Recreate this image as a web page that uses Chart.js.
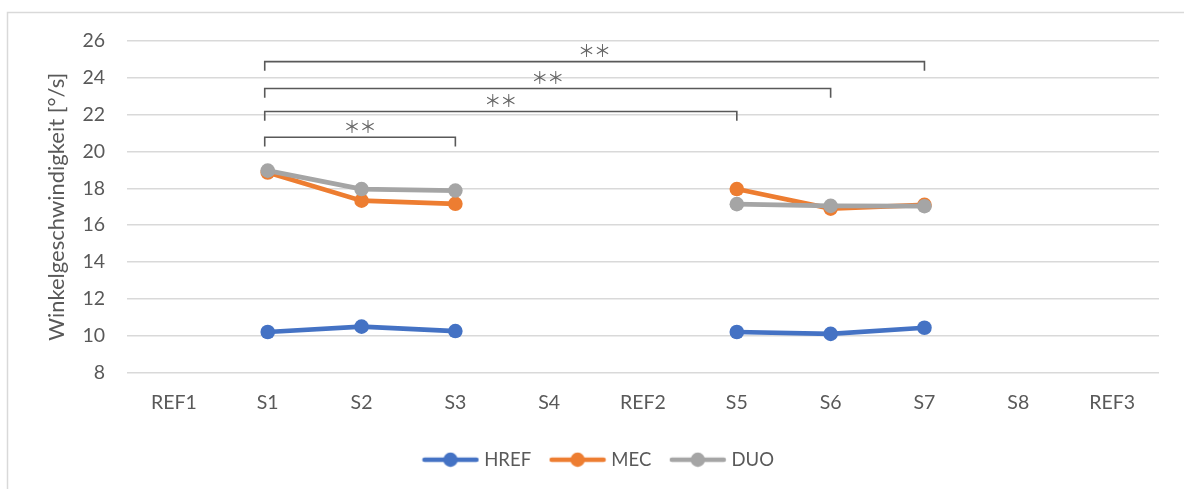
<!DOCTYPE html>
<html>
<head>
<meta charset="utf-8">
<script src="https://cdn.jsdelivr.net/npm/chart.js@4/dist/chart.umd.min.js"></script>
<style>
  html, body { margin: 0; padding: 0; background: #ffffff; }
  #wrap { position: relative; width: 1184px; height: 489px; }
  canvas { display: block; }
</style>
</head>
<body>
<div id="wrap"><canvas id="c" width="1184" height="489"></canvas></div>
<script>
// ---- data ----
const categories = ['REF1', 'S1', 'S2', 'S3', 'S4', 'REF2', 'S5', 'S6', 'S7', 'S8', 'REF3'];
const hrefValues = [null, 10.2, 10.49, 10.25, null, null, 10.2, 10.1, 10.43, null, null];
const mecValues  = [null, 18.86, 17.33, 17.16, null, null, 17.96, 16.9, 17.1, null, null];
const duoValues  = [null, 18.96, 17.96, 17.88, null, null, 17.14, 17.05, 17.03, null, null];
const seriesNames = ['HREF', 'MEC', 'DUO'];
const yMin = 8, yMax = 26, yStep = 2;
const yTitle = 'Winkelgeschwindigkeit [°/s]';
// significance brackets
const bracketFrom  = ['S1', 'S1', 'S1', 'S1'];
const bracketTo    = ['S7', 'S6', 'S5', 'S3'];
const bracketLevel = [24.88, 23.42, 22.17, 20.77];
const bracketLabel = ['＊', '＊', '＊', '＊']; // drawn twice -> "**"

// ---- styles ----
const colors = ['#4472C4', '#ED7D31', '#A5A5A5'];
const textColor = '#595959';
const gridColor = '#D9D9D9';
const fontFamily = 'Lato, "Open Sans", sans-serif';

function legendImage(color) {
  const cv = document.createElement('canvas');
  cv.width = 58; cv.height = 16;
  const g = cv.getContext('2d');
  g.strokeStyle = color; g.lineWidth = 4.5; g.lineCap = 'round';
  g.beginPath(); g.moveTo(3, 8); g.lineTo(55, 8); g.stroke();
  g.fillStyle = color;
  g.beginPath(); g.arc(29, 8, 7.2, 0, Math.PI * 2); g.fill();
  return cv;
}
const legendImgs = colors.map(legendImage);

const framePlugin = {
  id: 'frame',
  beforeDraw(chart) {
    const ctx = chart.ctx;
    ctx.save();
    ctx.fillStyle = '#ffffff';
    ctx.fillRect(0, 0, chart.width, chart.height);
    ctx.strokeStyle = gridColor;
    ctx.lineWidth = 1.5;
    ctx.strokeRect(7.5, 12.5, 1200, 500);
    ctx.restore();
  }
};

const bracketPlugin = {
  id: 'brackets',
  afterDatasetsDraw(chart) {
    const ctx = chart.ctx;
    const xs = chart.scales.x, ys = chart.scales.y;
    ctx.save();
    ctx.strokeStyle = textColor;
    ctx.lineWidth = 1.6;
    ctx.fillStyle = '#666666';
    ctx.font = '17px "Noto Sans CJK JP"';
    ctx.textAlign = 'center';
    ctx.textBaseline = 'middle';
    for (let i = 0; i < bracketLevel.length; i++) {
      const x1 = xs.getPixelForValue(categories.indexOf(bracketFrom[i])) - 3;
      const x2 = xs.getPixelForValue(categories.indexOf(bracketTo[i]));
      const y = ys.getPixelForValue(bracketLevel[i]);
      const drop = ys.getPixelForValue(bracketLevel[i] - 0.5) - y;
      ctx.beginPath();
      ctx.moveTo(x1, y + drop);
      ctx.lineTo(x1, y);
      ctx.lineTo(x2, y);
      ctx.lineTo(x2, y + drop);
      ctx.stroke();
      const cx = (x1 + x2) / 2;
      ctx.fillText(bracketLabel[i], cx - 8, y - 11);
      ctx.fillText(bracketLabel[i], cx + 8, y - 11);
    }
    ctx.restore();
  }
};

const values = [hrefValues, mecValues, duoValues];
const datasets = seriesNames.map((name, i) => ({
  label: name,
  data: values[i],
  borderColor: colors[i],
  backgroundColor: colors[i],
  borderWidth: 4.7,
  pointRadius: 7.3,
  pointHoverRadius: 7.3,
  pointBorderWidth: 0,
  tension: 0,
  spanGaps: false,
  order: 2 - i
}));

new Chart(document.getElementById('c'), {
  type: 'line',
  data: { labels: categories, datasets },
  options: {
    responsive: false,
    animation: false,
    layout: { padding: { left: 41, right: 25, top: 41, bottom: 10 } },
    scales: {
      x: {
        offset: true,
        grid: { display: false },
        border: { display: false },
        ticks: { color: textColor, font: { family: fontFamily, size: 19.5 }, padding: 11 },
        afterFit(s) { s.height = 56; }
      },
      y: {
        min: yMin, max: yMax,
        ticks: { stepSize: yStep, color: textColor, font: { family: fontFamily, size: 19.5 }, padding: 22 },
        grid: { color: gridColor, lineWidth: 1.4, drawTicks: false },
        border: { display: false },
        title: { display: true, text: yTitle, color: textColor, font: { family: fontFamily, size: 22 }, padding: { top: 3, bottom: 0 } },
        afterFit(s) { s.width = 86; }
      }
    },
    plugins: {
      tooltip: { enabled: false },
      legend: {
        position: 'bottom',
        labels: {
          usePointStyle: true,
          pointStyleWidth: 49,
          padding: 22,
          color: textColor,
          font: { family: fontFamily, size: 18.5 },
          generateLabels(chart) {
            return chart.data.datasets.map((d, i) => ({
              text: d.label,
              fillStyle: colors[i],
              strokeStyle: colors[i],
              fontColor: textColor,
              pointStyle: legendImgs[i],
              lineWidth: 0,
              hidden: false,
              datasetIndex: i
            }));
          }
        }
      }
    }
  },
  plugins: [framePlugin, bracketPlugin]
});
</script>
</body>
</html>
